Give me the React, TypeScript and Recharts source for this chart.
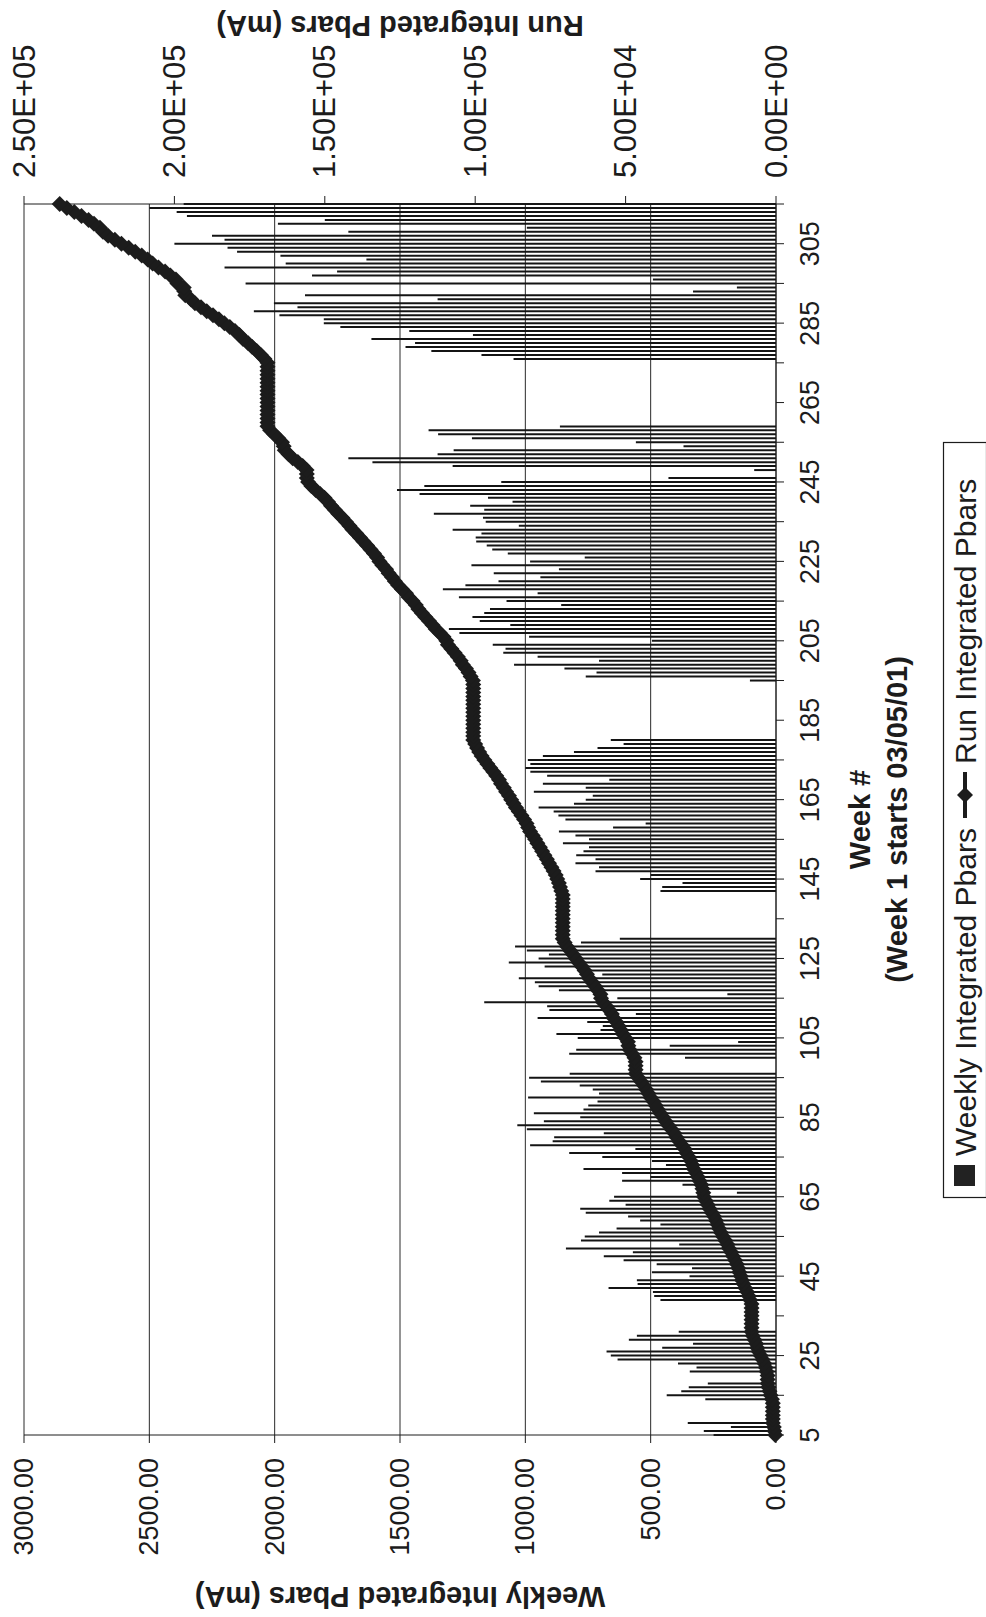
import React from 'react';
import { ComposedChart, Bar, Line, XAxis, YAxis, CartesianGrid, Legend } from 'recharts';

const FONT = '"Liberation Sans", Arial, Helvetica, sans-serif';
const INK = '#1c1c1c';

const FIRST_WEEK = 5;

// Weekly integrated pbars (mA), week by week
// weeks 5-130
const RUN_A = [
  249, 288, 180, 352, 0, 0, 0, 0, 0, 282,
  436, 378, 348, 272, 0, 0, 344, 317, 391, 632,
  659, 676, 454, 331, 587, 555, 388, 0, 0, 0,
  0, 0, 0, 0, 461, 486, 491, 668, 552, 555,
  345, 495, 335, 476, 608, 687, 571, 838, 386, 778,
  763, 706, 636, 461, 542, 590, 759, 781, 600, 665,
  646, 156, 307, 373, 614, 501, 614, 768, 439, 495,
  693, 825, 561, 981, 891, 885, 687, 994, 1032, 926,
  781, 966, 768, 749, 712, 989, 706, 731, 783, 938,
  985, 823, 0, 0, 0, 363, 825, 797, 424, 151,
  791, 876, 700, 691, 753, 951, 559, 904, 913, 1164,
  633, 194, 866, 947, 962, 1026, 693, 768, 923, 1066,
  947, 906, 994, 1041, 778, 623,
];
// weeks 131-141 (shutdown)
const SHUTDOWN_A = [0, 0, 0, 0, 0, 0, 0, 0, 0, 0, 0];
// weeks 142-180
const RUN_B = [
  461, 454, 373, 542, 500, 720, 706, 800, 720, 797,
  768, 746, 850, 746, 800, 866, 650, 520, 840, 868,
  887, 947, 806, 759, 731, 966, 759, 930, 665, 913,
  980, 1000, 980, 990, 930, 806, 712, 608, 659,
];
// weeks 181-194 (shutdown)
const SHUTDOWN_B = [0, 0, 0, 0, 0, 0, 0, 0, 0, 0, 0, 0, 0, 0];
// weeks 195-259
const RUN_C = [
  104, 759, 716, 844, 1045, 706, 951, 1088, 1079, 1130,
  495, 985, 1263, 1305, 1060, 1182, 1211, 1164, 1141, 857,
  1075, 1265, 951, 1329, 1239, 1107, 940, 1126, 866, 1215,
  981, 763, 1070, 1132, 1154, 1196, 1198, 1175, 1290, 1026,
  1158, 1169, 1365, 1164, 1220, 1051, 1149, 1422, 1512, 1403,
  1096, 429, 0, 87, 1290, 1610, 1706, 1350, 1286, 369,
  559, 1213, 1348, 1386, 862,
];
// weeks 260-275 (shutdown)
const SHUTDOWN_C = [0, 0, 0, 0, 0, 0, 0, 0, 0, 0, 0, 0, 0, 0, 0, 0];
// weeks 276-315
const RUN_D = [
  1047, 1175, 1375, 1478, 1440, 1614, 1209, 1463, 1738, 1804,
  1804, 1981, 2083, 1909, 2003, 1350, 1879, 331, 156, 2116,
  491, 1851, 1751, 2200, 1956, 1634, 1977, 2150, 2188, 2400,
  2200, 2250, 1706, 994, 1987, 1800, 2350, 2391, 2500, 2363,
];

const WEEKLY_TICKS = [0, 500, 1000, 1500, 2000, 2500, 3000];
const RUN_TICKS = [0, 50000, 100000, 150000, 200000, 250000];
const WEEK_TICKS = [
  5, 15, 25, 35, 45, 55, 65, 75, 85, 95, 105, 115, 125, 135, 145, 155,
  165, 175, 185, 195, 205, 215, 225, 235, 245, 255, 265, 275, 285, 295, 305, 315,
];
const WEEK_LABELS = [5, 25, 45, 65, 85, 105, 125, 145, 165, 185, 205, 225, 245, 265, 285, 305];

const WEEKLY = [...RUN_A, ...SHUTDOWN_A, ...RUN_B, ...SHUTDOWN_B, ...RUN_C, ...SHUTDOWN_C, ...RUN_D];

// run integrated = running total of the weekly numbers
let total = 0;
const rows = WEEKLY.map((v, i) => {
  total += v;
  return { week: FIRST_WEEK + i, weekly: v, run: total };
});

const sci = (v: number) => {
  const [m, e] = v.toExponential(2).split('e');
  const n = Number(e);
  return `${m}E${n < 0 ? '-' : '+'}${String(Math.abs(n)).padStart(2, '0')}`;
};

function WeeklyTick({ x, y, payload }: any) {
  const ty = y + 13;
  return (
    <text x={x} y={ty} transform={`rotate(-90, ${x}, ${ty})`} textAnchor="end" dominantBaseline="central"
      fontSize={27} fontFamily={FONT} fill={INK}>
      {Number(payload.value).toFixed(2)}
    </text>
  );
}

function RunTick({ x, y, payload }: any) {
  const ty = y - 16;
  return (
    <text x={x} y={ty} transform={`rotate(-90, ${x}, ${ty})`} textAnchor="start" dominantBaseline="central"
      fontSize={31} fontFamily={FONT} fill={INK}>
      {sci(Number(payload.value))}
    </text>
  );
}

function WeekTick({ x, y, payload }: any) {
  if (!WEEK_LABELS.includes(payload.value)) return null;
  const tx = x + 24;
  return (
    <text x={tx} y={y} transform={`rotate(-90, ${tx}, ${y})`} textAnchor="middle" dominantBaseline="central"
      fontSize={27} fontFamily={FONT} fill={INK}>
      {payload.value}
    </text>
  );
}

function FlippedTitle({ viewBox, text, cy }: any) {
  const cx = viewBox.x + viewBox.width / 2;
  return (
    <text x={cx} y={cy} transform={`rotate(180, ${cx}, ${cy})`} textAnchor="middle" dominantBaseline="central"
      fontSize={29} fontWeight="bold" fontFamily={FONT} fill={INK}>
      {text}
    </text>
  );
}

function WeekTitle({ viewBox }: any) {
  const cy = viewBox.y + viewBox.height / 2;
  const lines = [
    { x: 860, t: 'Week #' },
    { x: 897, t: '(Week 1 starts 03/05/01)' },
  ];
  return (
    <g>
      {lines.map((l) => (
        <text key={l.t} x={l.x} y={cy} transform={`rotate(-90, ${l.x}, ${cy})`} textAnchor="middle"
          dominantBaseline="central" fontSize={29} fontWeight="bold" fontFamily={FONT} fill={INK}>
          {l.t}
        </text>
      ))}
    </g>
  );
}

const diamond = (cx: number, cy: number, r: number) =>
  `${cx},${cy - r} ${cx + r},${cy} ${cx},${cy + r} ${cx - r},${cy}`;

function Diamond(p: any) {
  if (p.cx == null || p.cy == null) return null;
  return <polygon points={diamond(p.cx, p.cy, 8)} fill={INK} />;
}

function LegendBox() {
  const W = 44;
  const H = 756;
  return (
    <svg width={W} height={H} style={{ display: 'block', overflow: 'visible' }}>
      <rect x={0.5} y={0.5} width={W - 1} height={H - 1} fill="#fff" stroke={INK} strokeWidth={1.2} />
      {/* local x runs up the box, local y runs to the right */}
      <g transform={`translate(0, ${H}) rotate(-90)`} fontFamily={FONT} fill={INK}>
        <rect x={12} y={11} width={21} height={21} fill="#222" />
        <text x={42} y={22} dominantBaseline="central" fontSize={30}>Weekly Integrated Pbars</text>
        <line x1={380} x2={426} y1={22} y2={22} stroke={INK} strokeWidth={4} />
        <polygon points={diamond(403, 22, 8)} fill={INK} />
        <text x={434} y={22} dominantBaseline="central" fontSize={30}>Run Integrated Pbars</text>
      </g>
    </svg>
  );
}

export default function App() {
  return (
    <div style={{ position: 'absolute', left: 0, top: 0, width: 986, height: 1617, background: '#fff' }}>
      <ComposedChart
        layout="vertical"
        width={986}
        height={1617}
        data={rows}
        margin={{ top: 14, right: 150, bottom: 12, left: 24 }}
      >
        <CartesianGrid horizontal={false} xAxisId="weekly" yAxisId="week" stroke="#2a2a2a" strokeWidth={1} />
        <XAxis
          xAxisId="weekly"
          type="number"
          orientation="bottom"
          domain={[0, 3000]}
          ticks={WEEKLY_TICKS}
          interval={0}
          reversed
          height={170}
          tickSize={8}
          stroke={INK}
          tick={<WeeklyTick />}
          label={{ content: (p: any) => <FlippedTitle {...p} text="Weekly Integrated Pbars (mA)" cy={1597} /> }}
        />
        <XAxis
          xAxisId="run"
          type="number"
          orientation="top"
          domain={[0, 250000]}
          ticks={RUN_TICKS}
          interval={0}
          reversed
          height={190}
          tickSize={8}
          stroke={INK}
          tick={<RunTick />}
          label={{ content: (p: any) => <FlippedTitle {...p} text="Run Integrated Pbars (mA)" cy={26} /> }}
        />
        <YAxis
          yAxisId="week"
          type="number"
          dataKey="week"
          orientation="right"
          domain={[5, 315]}
          ticks={WEEK_TICKS}
          interval={0}
          reversed
          width={60}
          tickSize={8}
          stroke={INK}
          tick={<WeekTick />}
          label={{ content: (p: any) => <WeekTitle {...p} /> }}
        />
        <Bar
          dataKey="weekly"
          name="Weekly Integrated Pbars"
          xAxisId="weekly"
          yAxisId="week"
          barSize={2}
          fill="#141414"
          isAnimationActive={false}
        />
        <Line
          dataKey="run"
          name="Run Integrated Pbars"
          xAxisId="run"
          yAxisId="week"
          type="linear"
          stroke={INK}
          strokeWidth={5}
          dot={(p: any) => <Diamond key={p.index} {...p} />}
          activeDot={false}
          isAnimationActive={false}
        />
        <Legend
          layout="horizontal"
          verticalAlign="middle"
          align="center"
          wrapperStyle={{ position: 'absolute', left: 943, top: 442, width: 44, height: 756 }}
          content={() => <LegendBox />}
        />
      </ComposedChart>
    </div>
  );
}
